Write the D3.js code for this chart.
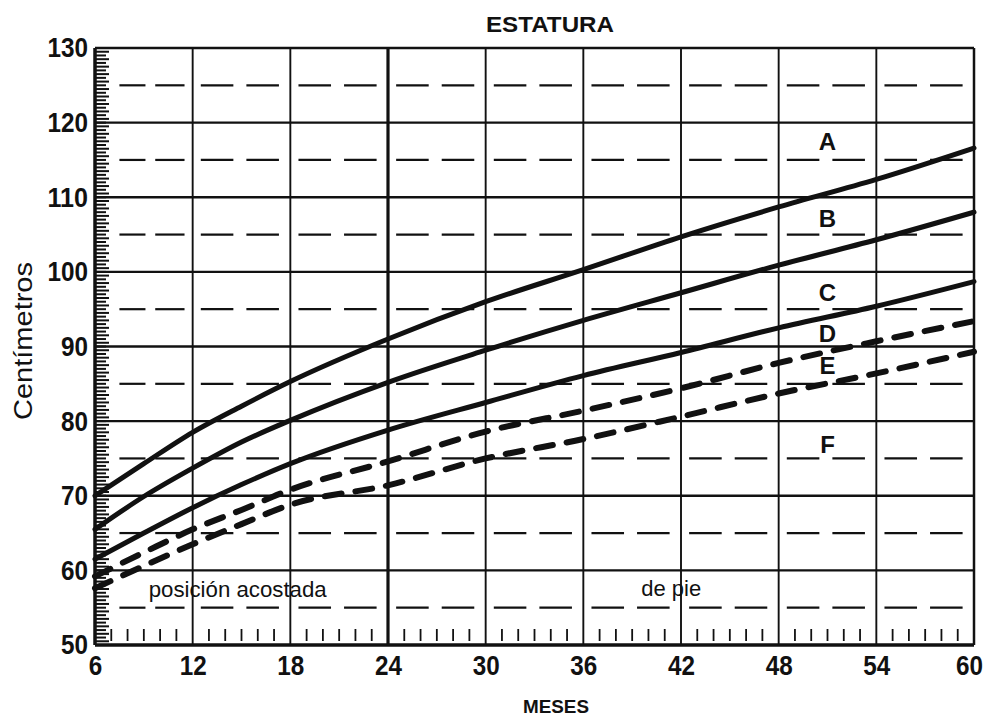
<!DOCTYPE html>
<html>
<head>
<meta charset="utf-8">
<script src="https://cdn.jsdelivr.net/npm/d3@7/dist/d3.min.js"></script>
<style>
  body { margin: 0; background: #fff; }
  svg text { fill: #111; }
</style>
</head>
<body>
<svg id="chart" width="989" height="720"></svg>
<script>
// Chart data
const months = [6, 9, 12, 15, 18, 24, 30, 36, 42, 48, 54, 60];
const curveA = [70.0, 74.3, 78.5, 82.0, 85.3, 91.0, 96.0, 100.3, 104.7, 108.7, 112.4, 116.6];
const curveB = [65.5, 69.9, 73.7, 77.2, 80.1, 85.2, 89.5, 93.5, 97.2, 100.9, 104.3, 108.0];
const curveC = [61.5, 65.0, 68.4, 71.5, 74.3, 78.8, 82.5, 86.1, 89.2, 92.5, 95.4, 98.7];
const curveD = [59.2, 62.4, 65.5, 68.1, 70.8, 74.6, 78.6, 81.4, 84.4, 87.8, 90.7, 93.4];
const curveE = [57.6, 60.6, 63.5, 66.2, 68.8, 71.4, 75.0, 77.6, 80.6, 83.7, 86.4, 89.3];

const xTicks = [6, 12, 18, 24, 30, 36, 42, 48, 54, 60];
const yTicks = [50, 60, 70, 80, 90, 100, 110, 120, 130];
const yHalfTicks = [55, 65, 75, 85, 95, 105, 115, 125];

const letterNames = ["A", "B", "C", "D", "E", "F"];
const letterCm = [117.5, 107.2, 97.2, 91.8, 87.5, 76.9];
const letterMonth = 51;

const svg = d3.select("#chart");
const txtFont = "'Liberation Sans', Arial, sans-serif";

// Scales
const x = d3.scaleLinear().domain([6, 60]).range([95, 974]);
const y = d3.scaleLinear().domain([50, 130]).range([645, 48]);

// Dashed half-lines (two dashes per 6-month cell)
const cells = d3.range(6, 60, 6);
const g = svg.append("g");
yHalfTicks.forEach(function (v) {
  cells.forEach(function (m) {
    const segs = m === 6 ? [[1.5, 3.1], [3.7, 5.5]] : [[0.5, 2.5], [3.3, 5.3]];
    segs.forEach(function (s) {
      g.append("line")
        .attr("x1", x(m + s[0])).attr("x2", x(m + s[1]))
        .attr("y1", y(v)).attr("y2", y(v))
        .attr("stroke", "#111").attr("stroke-width", 2.2);
    });
  });
});

// Solid horizontal grid
g.selectAll(".hgrid")
  .data(yTicks.filter(d => d > 50 && d < 130))
  .enter()
  .append("line")
  .attr("x1", x(6)).attr("x2", x(60))
  .attr("y1", d => y(d)).attr("y2", d => y(d))
  .attr("stroke", "#111").attr("stroke-width", 2.4);

// Vertical grid
g.selectAll(".vgrid")
  .data(xTicks.filter(d => d > 6 && d < 60))
  .enter()
  .append("line")
  .attr("x1", d => x(d)).attr("x2", d => x(d))
  .attr("y1", y(130)).attr("y2", y(50))
  .attr("stroke", "#111")
  .attr("stroke-width", d => (d === 24 ? 3.2 : 1.9));

// Left comb of minor ticks (every half centimetre)
g.selectAll(".ytick")
  .data(d3.range(50.5, 130, 0.5))
  .enter()
  .append("line")
  .attr("x1", x(6))
  .attr("x2", (d, i) => x(6) + (i % 2 ? 11 : 14))
  .attr("y1", d => y(d)).attr("y2", d => y(d))
  .attr("stroke", "#111").attr("stroke-width", 2);

// Bottom minor ticks (every month)
g.selectAll(".xtick")
  .data(d3.range(7, 60, 1).filter(d => (d - 6) % 6 !== 0))
  .enter()
  .append("line")
  .attr("x1", d => x(d)).attr("x2", d => x(d))
  .attr("y1", y(50) - 16).attr("y2", y(50) - 4)
  .attr("stroke", "#111").attr("stroke-width", 1.8);

// Frame
g.append("line").attr("x1", x(6)).attr("x2", x(60)).attr("y1", y(130)).attr("y2", y(130))
  .attr("stroke", "#111").attr("stroke-width", 2.5);
g.append("line").attr("x1", x(6)).attr("x2", x(60)).attr("y1", y(50)).attr("y2", y(50))
  .attr("stroke", "#111").attr("stroke-width", 3.5);
g.append("line").attr("x1", x(6)).attr("x2", x(6)).attr("y1", y(130)).attr("y2", y(50))
  .attr("stroke", "#111").attr("stroke-width", 3.5);
g.append("line").attr("x1", x(60)).attr("x2", x(60)).attr("y1", y(130)).attr("y2", y(50))
  .attr("stroke", "#111").attr("stroke-width", 2.5);

// Growth curves
const line = d3.line()
  .x(d => x(d[0]))
  .y(d => y(d[1]))
  .curve(d3.curveMonotoneX);

const series = [
  { v: curveA, dashed: false },
  { v: curveB, dashed: false },
  { v: curveC, dashed: false },
  { v: curveD, dashed: true },
  { v: curveE, dashed: true }
];

series.forEach(function (s) {
  svg.append("path")
    .attr("d", line(months.map((m, i) => [m, s.v[i]])))
    .attr("fill", "none")
    .attr("stroke", "#111")
    .attr("stroke-width", s.dashed ? 6 : 5)
    .attr("stroke-linecap", "round")
    .attr("stroke-dasharray", s.dashed ? "17,14" : null);
});

// Curve letters
svg.selectAll(".letter")
  .data(letterNames)
  .enter()
  .append("text")
  .attr("x", x(letterMonth))
  .attr("y", (d, i) => y(letterCm[i]))
  .attr("dy", "0.36em")
  .attr("text-anchor", "middle")
  .attr("font-family", txtFont)
  .attr("font-weight", "bold")
  .attr("font-size", 24)
  .text(d => d);

// Axes tick labels (condensed bold digits)
const yAxis = svg.append("g")
  .attr("transform", `translate(${x(6) - 5},0)`)
  .call(d3.axisLeft(y).tickValues(yTicks).tickSize(0).tickPadding(2));
const xAxis = svg.append("g")
  .attr("transform", `translate(0,${y(50)})`)
  .call(d3.axisBottom(x).tickValues(xTicks).tickSize(0).tickPadding(10));

[yAxis, xAxis].forEach(function (a) {
  a.select(".domain").remove();
  a.selectAll("text")
    .attr("font-family", txtFont)
    .attr("font-weight", "bold")
    .attr("font-size", 28)
    .attr("fill", "#111")
    .attr("textLength", d => String(d).length * 13.5)
    .attr("lengthAdjust", "spacingAndGlyphs");
});
// last x label sits a little left, as in the print
xAxis.selectAll(".tick text").filter(d => d === 60).attr("x", -5);

// Titles
svg.append("text")
  .attr("x", 550).attr("y", 32)
  .attr("text-anchor", "middle")
  .attr("font-family", txtFont)
  .attr("font-size", 22)
  .attr("font-weight", "bold")
  .attr("textLength", 128)
  .attr("lengthAdjust", "spacingAndGlyphs")
  .text("ESTATURA");

svg.append("text")
  .attr("x", 556).attr("y", 713)
  .attr("text-anchor", "middle")
  .attr("font-family", txtFont)
  .attr("font-size", 19)
  .attr("font-weight", "bold")
  .attr("textLength", 66)
  .attr("lengthAdjust", "spacingAndGlyphs")
  .text("MESES");

svg.append("text")
  .attr("transform", "translate(32,341) rotate(-90)")
  .attr("text-anchor", "middle")
  .attr("font-family", txtFont)
  .attr("font-size", 25)
  .attr("textLength", 158)
  .attr("lengthAdjust", "spacingAndGlyphs")
  .text("Centímetros");

svg.append("text")
  .attr("x", x(9.3)).attr("y", 597)
  .attr("font-family", txtFont)
  .attr("font-size", 22)
  .attr("textLength", 178)
  .attr("lengthAdjust", "spacingAndGlyphs")
  .text("posición acostada");

svg.append("text")
  .attr("x", x(41.4)).attr("y", 596)
  .attr("text-anchor", "middle")
  .attr("font-family", txtFont)
  .attr("font-size", 22)
  .text("de pie");
</script>
</body>
</html>
